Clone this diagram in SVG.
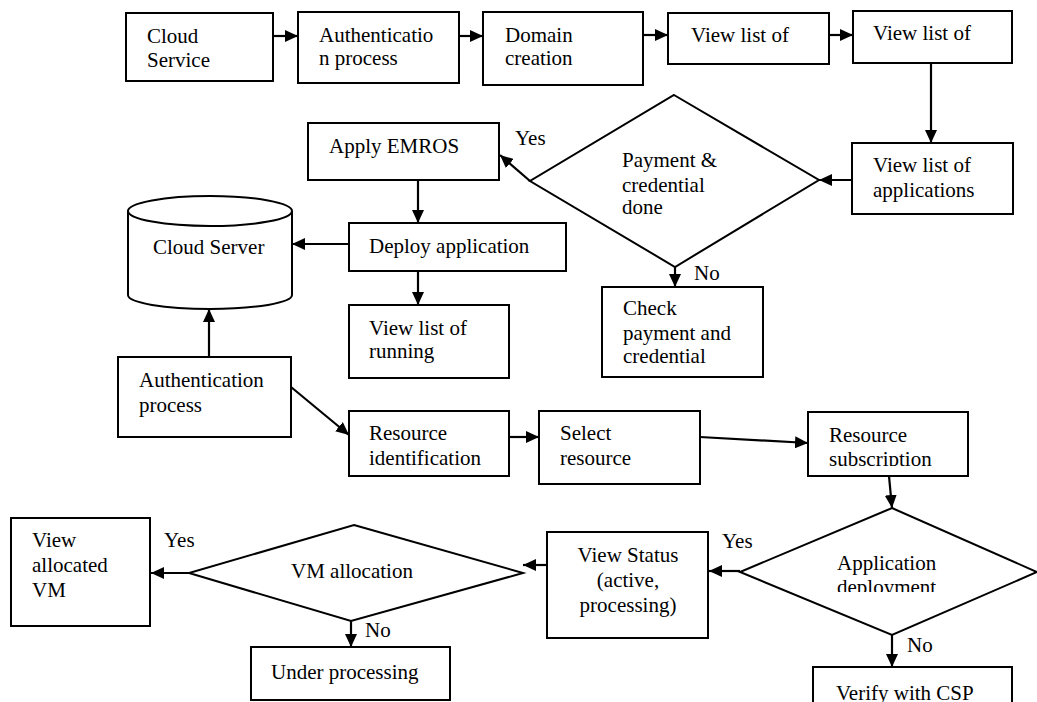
<svg xmlns="http://www.w3.org/2000/svg" width="1037" height="702" viewBox="0 0 1037 702">
<style>
.b{fill:#fff;stroke:#000;stroke-width:2}
.t{font-family:'Liberation Serif','Times New Roman','DejaVu Serif',serif;font-size:21px;fill:#000}
.c{stroke:#000;stroke-width:2.2;fill:none;marker-end:url(#ah)}
</style>
<defs>
<marker id="ah" markerUnits="userSpaceOnUse" markerWidth="14" markerHeight="12" refX="13" refY="6" orient="auto">
<path d="M0,0 L13,6 L0,12 Z" fill="#000"/>
</marker>
<clipPath id="cDone"><rect x="600" y="150" width="120" height="64"/></clipPath>
<clipPath id="cSub"><rect x="810" y="420" width="150" height="46"/></clipPath>
<clipPath id="cDep"><rect x="820" y="550" width="150" height="42"/></clipPath>
</defs>
<rect width="1037" height="702" fill="#fff"/>
<g id="connectors">
<line class="c" x1="273" y1="36" x2="298" y2="36"/>
<line class="c" x1="459" y1="36" x2="483" y2="36"/>
<line class="c" x1="643" y1="35" x2="668" y2="35"/>
<line class="c" x1="829" y1="35" x2="853" y2="35"/>
<line class="c" x1="931" y1="63" x2="931" y2="143"/>
<line class="c" x1="852" y1="180" x2="819" y2="180"/>
<line class="c" x1="530" y1="181" x2="500" y2="155"/>
<line class="c" x1="675" y1="262" x2="675" y2="287"/>
<line class="c" x1="418" y1="180" x2="418" y2="223"/>
<line class="c" x1="349" y1="244" x2="292" y2="244"/>
<line class="c" x1="418" y1="272" x2="418" y2="305"/>
<line class="c" x1="209" y1="357" x2="209" y2="309"/>
<line class="c" x1="291" y1="387" x2="349" y2="435"/>
<line class="c" x1="509" y1="437" x2="539" y2="437"/>
<line class="c" x1="700" y1="437" x2="808" y2="443"/>
<line class="c" x1="889" y1="476" x2="892" y2="508"/>
<line class="c" x1="740" y1="571" x2="709" y2="571"/>
<line class="c" x1="892" y1="630" x2="892" y2="667"/>
<line class="c" x1="547" y1="565" x2="523" y2="565"/>
<line class="c" x1="189" y1="573" x2="151" y2="573"/>
<line class="c" x1="351" y1="617" x2="351" y2="647"/>
</g>
<g id="cloudService"><rect class="b" x="126" y="13" width="147" height="68"/><text class="t" x="147" y="43">Cloud</text><text class="t" x="147" y="67">Service</text></g>
<g id="auth1"><rect class="b" x="298" y="12" width="161" height="71"/><text class="t" x="319" y="42">Authenticatio</text><text class="t" x="319" y="65">n process</text></g>
<g id="domain"><rect class="b" x="483" y="12" width="160" height="73"/><text class="t" x="505" y="42">Domain</text><text class="t" x="505" y="65">creation</text></g>
<g id="viewList1"><rect class="b" x="668" y="13" width="161" height="51"/><text class="t" x="691" y="42">View list of</text></g>
<g id="viewList2"><rect class="b" x="853" y="11" width="159" height="52"/><text class="t" x="873" y="40">View list of</text></g>
<g id="viewApps"><rect class="b" x="852" y="143" width="161" height="71"/><text class="t" x="873" y="172">View list of</text><text class="t" x="873" y="197">applications</text></g>
<g id="payment"><polygon class="b" points="674,95 819,180 675,267 530,181"/><text class="t" x="622" y="167">Payment &amp;</text><text class="t" x="622" y="192">credential</text><text class="t" x="622" y="214" clip-path="url(#cDone)">done</text></g>
<text class="t" x="515" y="145">Yes</text>
<text class="t" x="694" y="280">No</text>
<g id="applyEmros"><rect class="b" x="308" y="123" width="191" height="57"/><text class="t" x="329" y="153">Apply EMROS</text></g>
<g id="checkPayment"><rect class="b" x="602" y="287" width="161" height="90"/><text class="t" x="623" y="315">Check</text><text class="t" x="623" y="340">payment and</text><text class="t" x="623" y="363">credential</text></g>
<g id="cloudServer"><path class="b" d="M128,211 L128,295 A82,14 0 0 0 292,295 L292,211"/><ellipse class="b" cx="210" cy="211" rx="82" ry="15"/><text class="t" x="153" y="254">Cloud Server</text></g>
<g id="deploy"><rect class="b" x="349" y="223" width="217" height="48"/><text class="t" x="369" y="253">Deploy application</text></g>
<g id="viewRunning"><rect class="b" x="349" y="305" width="160" height="73"/><text class="t" x="369" y="335">View list of</text><text class="t" x="369" y="358">running</text></g>
<g id="auth2"><rect class="b" x="118" y="357" width="173" height="80"/><text class="t" x="139" y="387">Authentication</text><text class="t" x="139" y="412">process</text></g>
<g id="resIdent"><rect class="b" x="349" y="411" width="160" height="65"/><text class="t" x="369" y="440">Resource</text><text class="t" x="369" y="465">identification</text></g>
<g id="selectRes"><rect class="b" x="539" y="411" width="161" height="73"/><text class="t" x="560" y="440">Select</text><text class="t" x="560" y="465">resource</text></g>
<g id="resSub"><rect class="b" x="808" y="412" width="160" height="64"/><text class="t" x="829" y="442">Resource</text><text class="t" x="829" y="466" clip-path="url(#cSub)">subscription</text></g>
<g id="appDeploy"><polygon class="b" points="892,508 1037,572 892,635 740,572"/><text class="t" x="837" y="570">Application</text><text class="t" x="837" y="594" clip-path="url(#cDep)">deployment</text></g>
<text class="t" x="722" y="548">Yes</text>
<text class="t" x="907" y="652">No</text>
<g id="verifyCsp"><rect class="b" x="813" y="667" width="199" height="45"/><text class="t" x="836" y="700">Verify with CSP</text></g>
<g id="viewStatus"><rect class="b" x="547" y="532" width="161" height="106"/><text class="t" x="628" y="562" text-anchor="middle">View Status</text><text class="t" x="628" y="587" text-anchor="middle">(active,</text><text class="t" x="628" y="612" text-anchor="middle">processing)</text></g>
<g id="vmAlloc"><polygon class="b" points="354,525 523,573 351,621 189,573"/><text class="t" x="291" y="578">VM allocation</text></g>
<text class="t" x="164" y="547">Yes</text>
<text class="t" x="365" y="637">No</text>
<g id="viewVm"><rect class="b" x="11" y="518" width="139" height="108"/><text class="t" x="32" y="547">View</text><text class="t" x="32" y="572">allocated</text><text class="t" x="32" y="597">VM</text></g>
<g id="underProc"><rect class="b" x="251" y="647" width="199" height="53"/><text class="t" x="271" y="679">Under processing</text></g>
</svg>
